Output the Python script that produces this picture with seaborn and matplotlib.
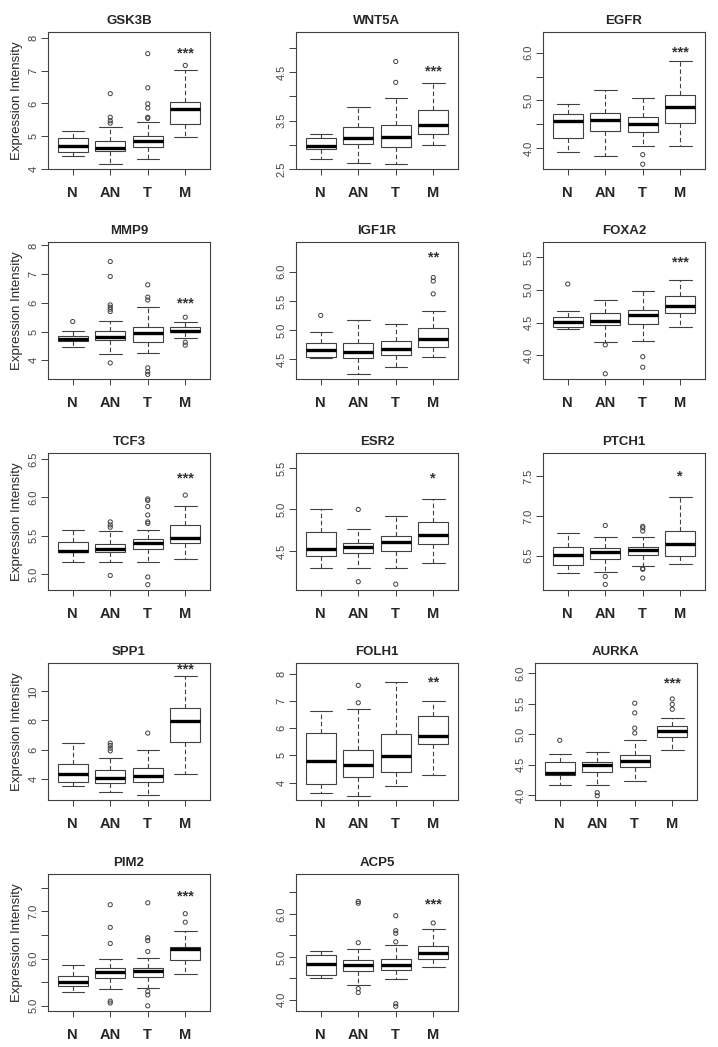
import numpy as np
import pandas as pd
import seaborn as sns
import matplotlib.pyplot as plt

GROUPS = ["N", "AN", "T", "M"]
GENES = ["GSK3B", "WNT5A", "EGFR", "MMP9", "IGF1R", "FOXA2", "TCF3",
         "ESR2", "PTCH1", "SPP1", "FOLH1", "AURKA", "PIM2", "ACP5"]

# per group: whisker low, Q1, median, Q3, whisker high
GSK3B = [[4.40, 4.51, 4.69, 4.94, 5.15], [4.15, 4.54, 4.65, 4.84, 5.27],
         [4.30, 4.66, 4.84, 5.01, 5.44], [4.97, 5.38, 5.82, 6.04, 7.02]]
WNT5A = [[2.70, 2.91, 2.97, 3.14, 3.22], [2.63, 3.02, 3.15, 3.37, 3.79],
         [2.60, 2.96, 3.17, 3.41, 3.97], [3.00, 3.22, 3.40, 3.71, 4.27]]
EGFR = [[3.92, 4.21, 4.57, 4.72, 4.92], [3.85, 4.37, 4.59, 4.73, 5.21],
        [4.05, 4.34, 4.51, 4.65, 5.06], [4.05, 4.52, 4.87, 5.12, 5.82]]
MMP9 = [[4.48, 4.66, 4.74, 4.84, 5.02], [4.22, 4.70, 4.81, 5.02, 5.37],
        [4.24, 4.65, 4.94, 5.15, 5.84], [4.79, 4.97, 5.02, 5.15, 5.35]]
IGF1R = [[4.52, 4.54, 4.66, 4.78, 4.97], [4.24, 4.52, 4.63, 4.78, 5.18],
         [4.36, 4.57, 4.68, 4.82, 5.10], [4.54, 4.71, 4.84, 5.04, 5.32]]
FOXA2 = [[4.40, 4.43, 4.51, 4.59, 4.67], [4.20, 4.46, 4.52, 4.64, 4.84],
         [4.22, 4.48, 4.61, 4.70, 4.98], [4.43, 4.65, 4.75, 4.91, 5.15]]
TCF3 = [[5.15, 5.28, 5.30, 5.42, 5.57], [5.15, 5.28, 5.33, 5.39, 5.56],
        [5.15, 5.32, 5.40, 5.45, 5.58], [5.20, 5.41, 5.47, 5.64, 5.89]]
ESR2 = [[4.30, 4.44, 4.52, 4.73, 5.00], [4.30, 4.48, 4.55, 4.60, 4.77],
        [4.30, 4.50, 4.61, 4.68, 4.92], [4.36, 4.58, 4.69, 4.85, 5.13]]
PTCH1 = [[6.28, 6.39, 6.51, 6.61, 6.78], [6.29, 6.46, 6.55, 6.60, 6.74],
         [6.37, 6.51, 6.57, 6.61, 6.74], [6.40, 6.50, 6.65, 6.81, 7.24]]
SPP1 = [[3.47, 3.79, 4.30, 4.99, 6.48], [3.10, 3.70, 4.02, 4.57, 5.40],
        [2.87, 3.79, 4.18, 4.76, 5.95], [4.30, 6.55, 7.98, 8.83, 11.08]]
FOLH1 = [[3.61, 3.94, 4.80, 5.82, 6.61], [3.52, 4.20, 4.66, 5.20, 6.70],
         [3.88, 4.40, 4.96, 5.78, 7.69], [4.26, 5.41, 5.71, 6.45, 7.01]]
AURKA = [[4.16, 4.33, 4.37, 4.54, 4.67], [4.16, 4.38, 4.49, 4.55, 4.71],
         [4.23, 4.46, 4.56, 4.66, 4.91], [4.74, 4.95, 5.05, 5.13, 5.26]]
PIM2 = [[5.30, 5.41, 5.51, 5.63, 5.86], [5.35, 5.59, 5.71, 5.80, 6.00],
        [5.38, 5.61, 5.73, 5.79, 6.01], [5.68, 5.96, 6.20, 6.25, 6.58]]
ACP5 = [[4.51, 4.57, 4.83, 5.05, 5.13], [4.34, 4.67, 4.81, 4.92, 5.19],
        [4.49, 4.70, 4.81, 4.95, 5.27], [4.76, 4.96, 5.10, 5.26, 5.66]]

# outlying points per group
GSK3B_OUT = [[], [6.30, 5.58, 5.47, 5.40], [7.52, 6.48, 5.99, 5.86, 5.58, 5.54], [7.16]]
WNT5A_OUT = [[], [], [4.72, 4.29], []]
EGFR_OUT = [[], [], [3.87, 3.67], []]
MMP9_OUT = [[5.35], [7.44, 6.92, 5.93, 5.85, 5.78, 5.70, 3.91],
            [6.63, 6.20, 6.10, 3.74, 3.60, 3.51], [5.50, 4.63, 4.53]]
IGF1R_OUT = [[5.25], [], [], [5.62, 5.90, 5.84]]
FOXA2_OUT = [[5.09], [4.16, 3.72], [3.98, 3.82], []]
TCF3_OUT = [[], [5.68, 5.64, 5.61, 4.98],
            [5.98, 5.96, 5.88, 5.77, 5.68, 5.66, 4.96, 4.86], [6.03]]
ESR2_OUT = [[], [5.00, 4.13], [4.10], []]
PTCH1_OUT = [[], [6.88, 6.24, 6.14], [6.87, 6.85, 6.81, 6.34, 6.33, 6.22], []]
SPP1_OUT = [[], [6.44, 6.28, 6.09, 5.91], [7.13], []]
FOLH1_OUT = [[], [7.57, 6.93], [], []]
AURKA_OUT = [[4.90], [4.04, 3.99], [5.51, 5.35, 5.10, 5.02], [5.58, 5.49, 5.41]]
PIM2_OUT = [[], [7.14, 6.66, 6.32, 5.10, 5.06],
            [7.18, 6.44, 6.38, 6.15, 5.30, 5.23, 5.00], [6.95, 6.77]]
ACP5_OUT = [[], [6.29, 6.25, 5.33, 4.26, 4.17],
            [5.96, 5.61, 5.55, 5.35, 3.91, 3.85], [5.79]]

STARS = ["***", "***", "***", "***", "**", "***", "***",
         "*", "*", "***", "**", "***", "***", "***"]
STAR_Y = [7.52, 4.52, 6.01, 5.98, 6.25, 5.42, 6.25,
          5.37, 7.49, 11.5, 7.69, 5.83, 7.32, 6.23]

YLIMS = [(4.0, 8.18), (2.5, 5.33), (3.57, 6.43), (3.35, 8.12), (4.16, 6.51),
         (3.64, 5.73), (4.79, 6.58), (4.03, 5.68), (6.07, 7.79), (2.53, 11.95),
         (3.36, 8.39), (3.92, 6.17), (4.89, 7.79), (3.74, 6.93)]
YTICKS = [[4, 5, 6, 7, 8], [2.5, 3.0, 3.5, 4.0, 4.5, 5.0], [4.0, 4.5, 5.0, 5.5, 6.0],
          [4, 5, 6, 7, 8], [4.5, 5.0, 5.5, 6.0], [4.0, 4.5, 5.0, 5.5],
          [5.0, 5.5, 6.0, 6.5], [4.5, 5.0, 5.5], [6.5, 7.0, 7.5], [4, 6, 8, 10],
          [4, 5, 6, 7, 8], [4.0, 4.5, 5.0, 5.5, 6.0],
          [5.0, 5.5, 6.0, 6.5, 7.0, 7.5], [4.0, 4.5, 5.0, 5.5, 6.0, 6.5]]
YLABELS = [["4", "5", "6", "7", "8"], ["2.5", "", "3.5", "", "4.5", ""],
           ["4.0", "", "5.0", "", "6.0"], ["4", "5", "6", "7", "8"],
           ["4.5", "5.0", "5.5", "6.0"], ["4.0", "4.5", "5.0", "5.5"],
           ["5.0", "5.5", "6.0", "6.5"], ["4.5", "5.0", "5.5"], ["6.5", "7.0", "7.5"],
           ["4", "6", "8", "10"], ["4", "5", "6", "7", "8"],
           ["4.0", "4.5", "5.0", "5.5", "6.0"],
           ["5.0", "", "6.0", "", "7.0", ""], ["4.0", "", "5.0", "", "6.0", ""]]

SUMMARIES = [GSK3B, WNT5A, EGFR, MMP9, IGF1R, FOXA2, TCF3,
             ESR2, PTCH1, SPP1, FOLH1, AURKA, PIM2, ACP5]
OUTLIERS = [GSK3B_OUT, WNT5A_OUT, EGFR_OUT, MMP9_OUT, IGF1R_OUT, FOXA2_OUT, TCF3_OUT,
            ESR2_OUT, PTCH1_OUT, SPP1_OUT, FOLH1_OUT, AURKA_OUT, PIM2_OUT, ACP5_OUT]

sns.set_theme(style="ticks")
plt.rcParams["font.family"] = ["Liberation Sans", "DejaVu Sans"]

W, H = 718, 1047
COL_LEFT = [48, 296, 543]
ROW_TOP = [32, 242, 453, 663, 874]
AX_W, AX_H = 162, 137
LINE = "#404040"

fig = plt.figure(figsize=(W / 100, H / 100), dpi=100)

for i, gene in enumerate(GENES):
    row, col = divmod(i, 3)
    left, top = COL_LEFT[col], ROW_TOP[row]
    if gene == "AURKA":
        left -= 8  # this panel sits a little further left in the source figure
    ax = fig.add_axes([left / W, 1 - (top + AX_H) / H, AX_W / W, AX_H / H])

    box_df = pd.DataFrame(
        [(g, v) for g, stats in zip(GROUPS, SUMMARIES[i]) for v in stats],
        columns=["group", "value"])
    out_df = pd.DataFrame(
        [(g, v) for g, pts in zip(GROUPS, OUTLIERS[i]) for v in pts],
        columns=["group", "value"])

    sns.boxplot(data=box_df, x="group", y="value", order=GROUPS, whis=(0, 100),
                width=0.8, color="white", linecolor=LINE, linewidth=0.8,
                showfliers=False, ax=ax, capwidths=0.6,
                medianprops=dict(color="black", linewidth=2.4),
                whiskerprops=dict(linestyle=(0, (4, 2.5))))
    n_before = len(ax.collections)
    sns.stripplot(data=out_df, x="group", y="value", order=GROUPS, jitter=False,
                  size=3.0, color=LINE, linewidth=0.7, ax=ax)
    for coll in ax.collections[n_before:]:
        coll.set_facecolor("none")
        coll.set_edgecolor(LINE)

    ax.text(3, STAR_Y[i], STARS[i], ha="center", va="center", fontsize=10.5,
            fontweight="bold", color="#333333")

    ax.set_xlim(-0.66, 3.66)
    ax.set_ylim(*YLIMS[i])
    ax.set_yticks(YTICKS[i])
    ax.set_yticklabels(YLABELS[i], rotation=90, va="center", fontsize=8,
                       color="#444444")
    ax.tick_params(axis="y", length=5, width=0.7, pad=2, color=LINE)
    ax.tick_params(axis="x", length=4, width=0.7, pad=8, labelsize=10.5, color=LINE)
    for t in ax.get_xticklabels():
        t.set_fontweight("bold")
    for s in ax.spines.values():
        s.set_color(LINE)
        s.set_linewidth(0.8)

    ax.set_title(gene, fontsize=9.5, fontweight="bold", pad=6)
    ax.set_xlabel("")
    if col == 0:
        ax.set_ylabel("Expression Intensity", fontsize=9.5, labelpad=4)
    else:
        ax.set_ylabel("")

fig.savefig("out.png", dpi=100)
